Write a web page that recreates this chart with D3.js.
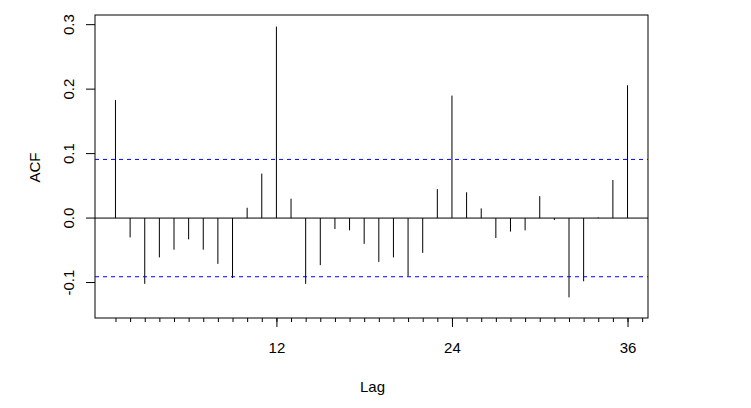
<!DOCTYPE html>
<html>
<head>
<meta charset="utf-8">
<script src="https://cdn.jsdelivr.net/npm/d3@7"></script>
<style>
  body { margin: 0; background: white; }
  text { font-family: "Liberation Sans", Arial, sans-serif; font-size: 15px; fill: black; }
</style>
</head>
<body>
<div id="container"></div>
<script>
let w = 751;
let h = 408;

// lags 1..36 and their autocorrelations
let lags = d3.range(1, 37);
let acfValues = [0.183, -0.030, -0.102, -0.061, -0.049, -0.033, -0.049, -0.071, -0.093, 0.016,
                 0.069, 0.297, 0.030, -0.102, -0.073, -0.017, -0.019, -0.040, -0.068, -0.061,
                 -0.090, -0.054, 0.045, 0.190, 0.040, 0.015, -0.031, -0.021, -0.019, 0.034,
                 -0.003, -0.123, -0.098, 0.001, 0.059, 0.206];
let confBound = 0.091;
let yTicks = [-0.1, 0.0, 0.1, 0.2, 0.3];
let yTickLabels = ['-0.1', '0.0', '0.1', '0.2', '0.3'];
let xMajorTicks = [12, 24, 36];
let xMinorTicks = d3.range(1, 38);

let plotLeft = 95, plotRight = 648, plotTop = 15, plotBottom = 318;
let fontSize = '15px';
let fontFamily = '"Liberation Sans", Arial, sans-serif';

let viz = d3.select('#container')
  .append('svg')
    .attr('width', w)
    .attr('height', h)
    .style('background-color', 'white')
;

let xScale = d3.scaleLinear().domain([-0.4, 37.4]).range([plotLeft, plotRight]);
let yScale = d3.scaleLinear().domain([-0.155, 0.315]).range([plotBottom, plotTop]);

// y axis
let yAxis = d3.axisLeft(yScale).tickValues(yTicks).tickSize(9)
    .tickFormat(function(d, i){ return yTickLabels[i]; });
let yAxisGroup = viz.append('g')
    .attr('transform', 'translate(' + plotLeft + ',0)')
    .call(yAxis);
yAxisGroup.select('.domain').remove();
yAxisGroup.selectAll('line').attr('stroke', 'black');
yAxisGroup.selectAll('.tick').attr('transform', null);
yAxisGroup.selectAll('.tick line')
    .attr('y1', function(d){ return yScale(d); })
    .attr('y2', function(d){ return yScale(d); });
yAxisGroup.selectAll('text')
    .attr('x', null).attr('dy', null).attr('y', null)
    .attr('text-anchor', 'middle')
    .attr('transform', function(d){ return 'translate(-21,' + yScale(d) + ') rotate(-90)'; })
    .style('font-size', fontSize)
    .style('font-family', fontFamily);

// x axis: minor ticks for every lag, long ticks and labels at seasonal lags
let xMinor = d3.axisBottom(xScale).tickValues(xMinorTicks).tickSize(4).tickFormat('');
let xMinorGroup = viz.append('g').attr('transform', 'translate(0,' + plotBottom + ')').call(xMinor);
xMinorGroup.select('.domain').remove();
xMinorGroup.selectAll('line').attr('stroke', 'black');

let xMajor = d3.axisBottom(xScale).tickValues(xMajorTicks).tickSize(9).tickPadding(15);
let xMajorGroup = viz.append('g').attr('transform', 'translate(0,' + plotBottom + ')').call(xMajor);
xMajorGroup.select('.domain').remove();
xMajorGroup.selectAll('line').attr('stroke', 'black');
xMajorGroup.selectAll('text')
    .style('font-size', fontSize)
    .style('font-family', fontFamily);

// box
viz.append('rect')
    .attr('x', plotLeft).attr('y', plotTop)
    .attr('width', plotRight - plotLeft).attr('height', plotBottom - plotTop)
    .attr('fill', 'none').attr('stroke', 'black');

// zero line
viz.append('line')
    .attr('x1', plotLeft).attr('x2', plotRight)
    .attr('y1', yScale(0)).attr('y2', yScale(0))
    .attr('stroke', 'black');

// spikes
viz.append('g').selectAll('line').data(acfValues).enter().append('line')
    .attr('x1', function(d, i){ return xScale(lags[i]); })
    .attr('x2', function(d, i){ return xScale(lags[i]); })
    .attr('y1', yScale(0))
    .attr('y2', function(d){ return yScale(d); })
    .attr('stroke', 'black');

// confidence bounds
viz.append('g').selectAll('line').data([confBound, -confBound]).enter().append('line')
    .attr('x1', plotLeft).attr('x2', plotRight)
    .attr('y1', function(d){ return yScale(d); })
    .attr('y2', function(d){ return yScale(d); })
    .attr('stroke', 'blue')
    .attr('stroke-dasharray', '4,4');

// axis titles
viz.append('text')
    .attr('x', (plotLeft + plotRight) / 2 + 1).attr('y', 392)
    .attr('text-anchor', 'middle')
    .text('Lag');

viz.append('text')
    .attr('transform', 'translate(40,' + ((plotTop + plotBottom) / 2 + 1) + ') rotate(-90)')
    .attr('text-anchor', 'middle')
    .text('ACF');
</script>
</body>
</html>
